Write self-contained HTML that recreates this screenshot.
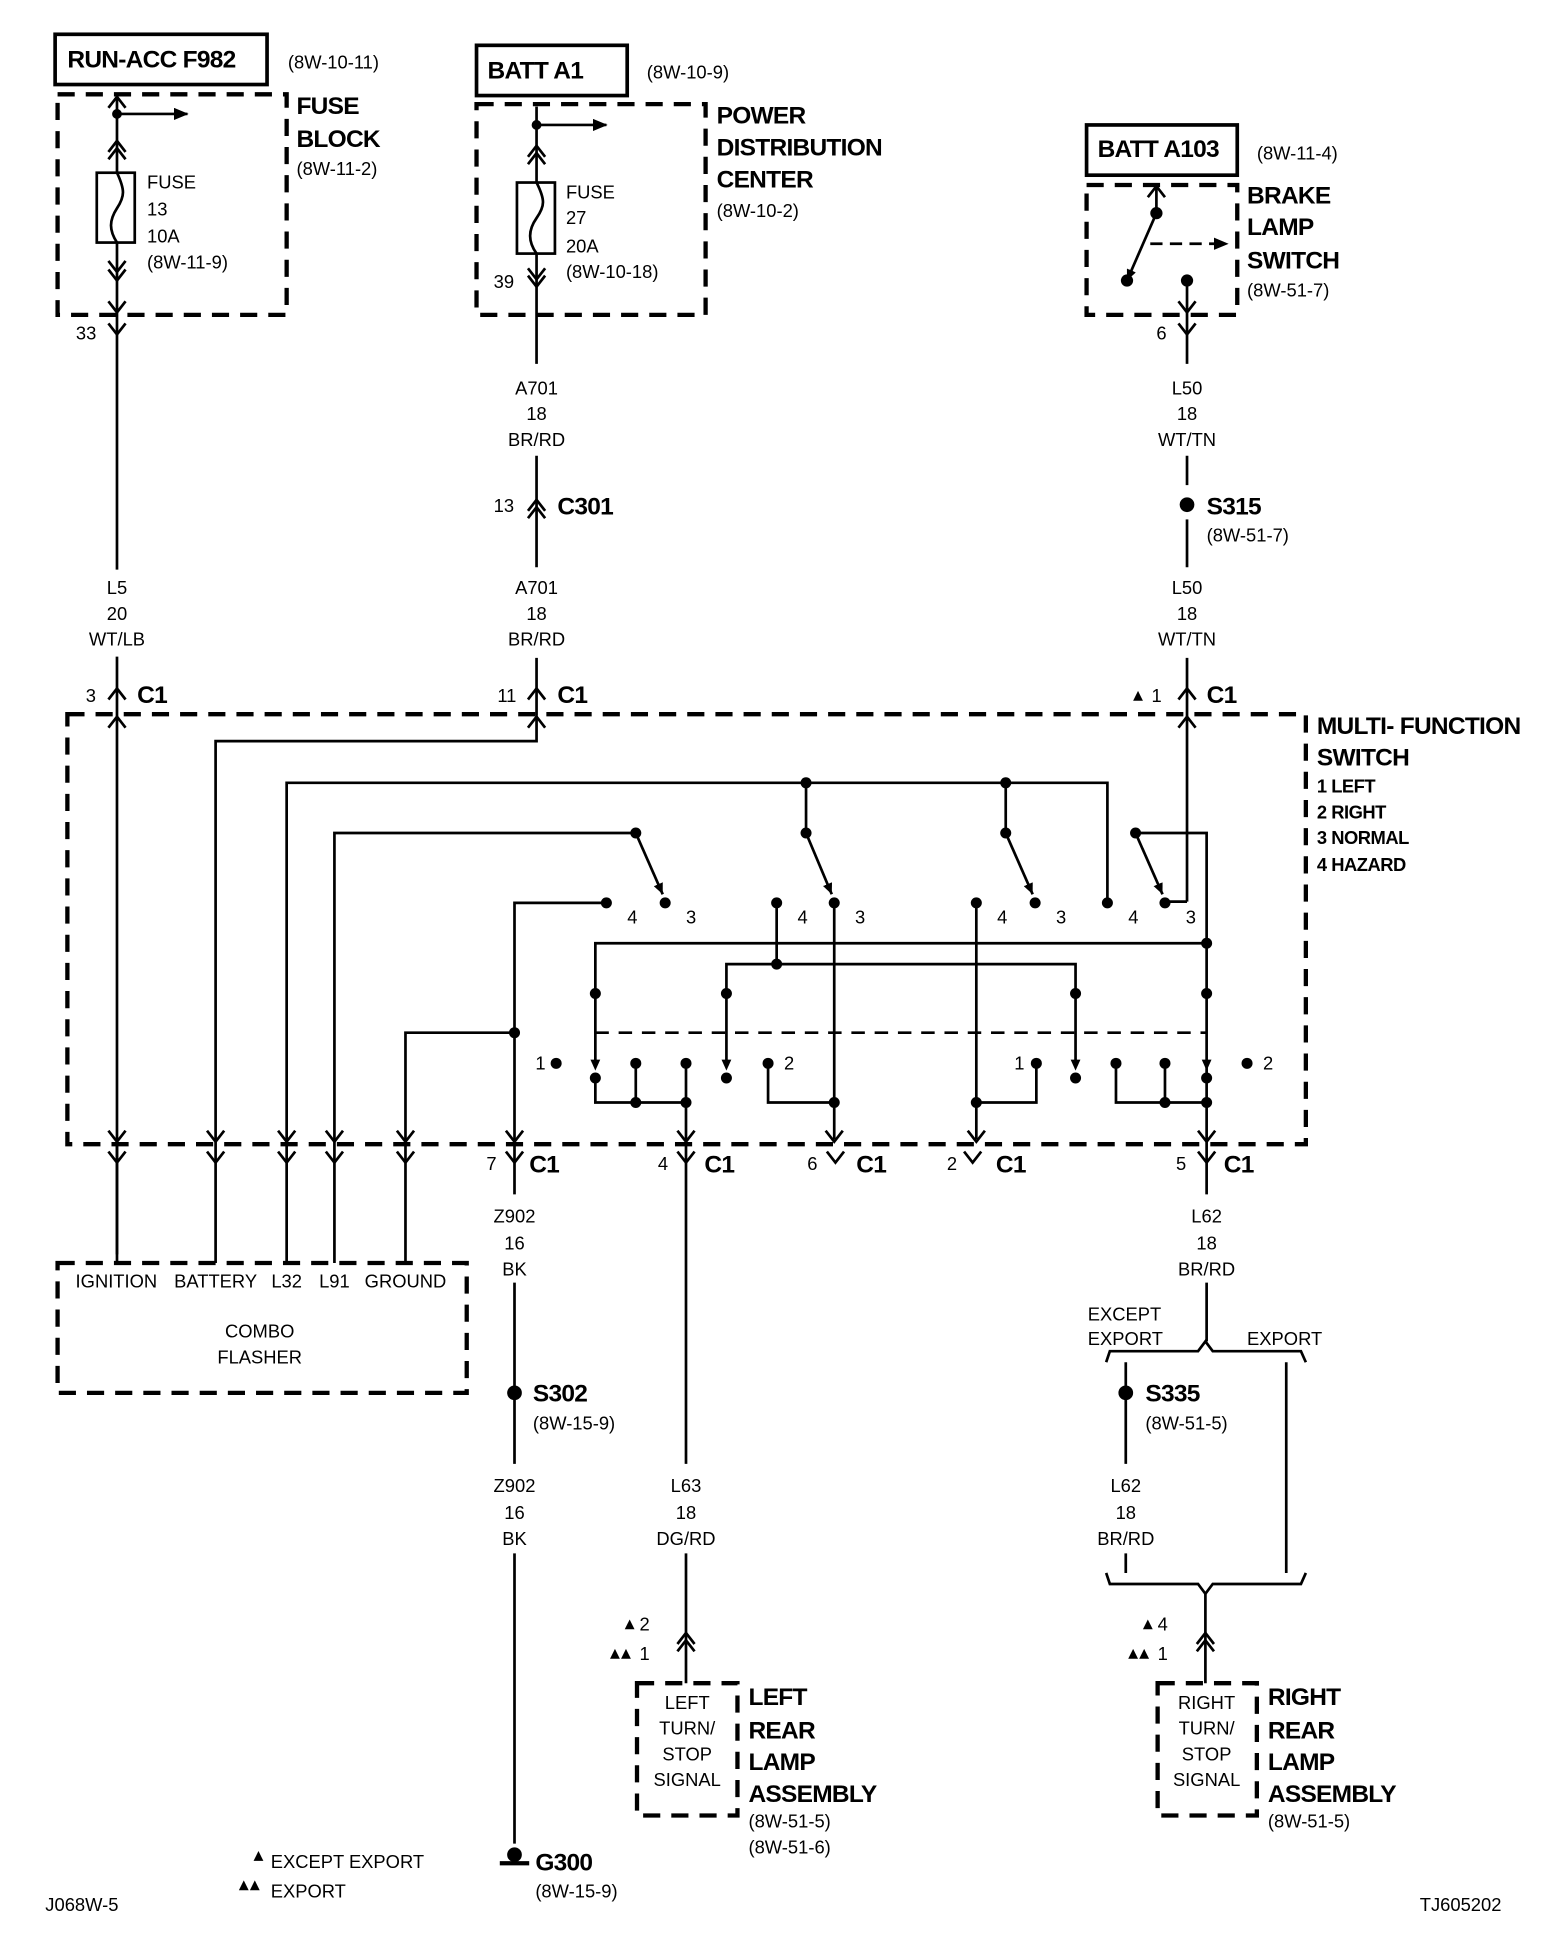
<!DOCTYPE html>
<html><head><meta charset="utf-8"><style>
html,body{margin:0;padding:0;background:#fff;}
svg{display:block;}
text{font-family:"Liberation Sans Narrow","Liberation Sans",Arial,sans-serif;fill:#000;}
.s{font-size:15px;}
.b{font-size:20px;font-weight:bold;letter-spacing:-0.6px;}
.m{font-size:15px;font-weight:bold;letter-spacing:-0.4px;}
</style></head><body>
<svg width="1568" height="1938" viewBox="0 0 1280 1582" preserveAspectRatio="none" xmlns="http://www.w3.org/2000/svg">
<defs>
<marker id="ah" markerUnits="userSpaceOnUse" markerWidth="12" markerHeight="10" refX="11" refY="5" orient="auto"><path d="M0,0 L12,5 L0,10 z" fill="#000"/></marker>
<marker id="sh" markerUnits="userSpaceOnUse" markerWidth="9" markerHeight="8" refX="9" refY="4" orient="auto"><path d="M0,0 L9,4 L0,8 z" fill="#000"/></marker>
<g id="vd"><polyline points="-7,-9 0,0 7,-9" fill="none" stroke="#000" stroke-width="2.2"/></g>
<g id="vu"><polyline points="-7,9 0,0 7,9" fill="none" stroke="#000" stroke-width="2.2"/></g>
<g id="ta"><path d="M-4,-9 L4,-9 L0,0 z" fill="#000"/></g>
</defs>
<g fill="none" stroke="#000" stroke-width="2.2">
<rect x="45" y="28" width="173" height="41" stroke-width="3"/>
<rect x="389" y="37" width="123" height="41" stroke-width="3"/>
<rect x="887" y="102" width="123" height="41" stroke-width="3"/>
<g stroke-width="3.5" stroke-dasharray="14 9">
<rect x="47" y="77" width="187" height="180"/>
<rect x="389" y="85" width="187" height="172"/>
<rect x="887" y="151" width="123" height="106"/>
<rect x="55" y="583" width="1011" height="351"/>
<rect x="47" y="1031" width="334" height="106"/>
<rect x="520" y="1374" width="82" height="108"/>
<rect x="945" y="1374" width="81" height="108"/>
</g>
<line x1="95.5" y1="79" x2="95.5" y2="1024"/>
<line x1="95.5" y1="465" x2="95.5" y2="536" stroke="#fff" stroke-width="4"/>
<line x1="95.5" y1="93" x2="153" y2="93" marker-end="url(#ah)"/>
<rect x="79" y="141" width="31" height="57" fill="#fff"/>
<path d="M95.5,141 C102,155 102,160 95.5,170 C89,180 89,188 95.5,198"/>
<line x1="438" y1="87" x2="438" y2="584"/>
<line x1="438" y1="297" x2="438" y2="372" stroke="#fff" stroke-width="4"/>
<line x1="438" y1="463" x2="438" y2="537" stroke="#fff" stroke-width="4"/>
<line x1="438" y1="102" x2="495" y2="102" marker-end="url(#ah)"/>
<rect x="422" y="149" width="31" height="58" fill="#fff"/>
<path d="M438,149 C445,163 445,168 438,178 C431,188 431,197 438,207"/>
<line x1="944" y1="152" x2="944" y2="174"/>
<line x1="944" y1="174" x2="920" y2="229" marker-end="url(#sh)"/>
<line x1="939" y1="199" x2="1002" y2="199" stroke-dasharray="10 6" marker-end="url(#ah)"/>
<line x1="969" y1="229" x2="969" y2="736"/>
<line x1="969" y1="297" x2="969" y2="372" stroke="#fff" stroke-width="4"/>
<line x1="969" y1="396" x2="969" y2="424" stroke="#fff" stroke-width="4"/>
<line x1="969" y1="463" x2="969" y2="537" stroke="#fff" stroke-width="4"/>
<polyline points="176,1031 176,605 438,605 438,584"/>
<polyline points="234,1031 234,639 904,639 904,736"/>
<polyline points="273,1031 273,680 519,680"/>
<polyline points="331,1031 331,843 420,843"/>
<polyline points="420,1505 420,737 495,737"/>
<line x1="420" y1="975" x2="420" y2="1047" stroke="#fff" stroke-width="4"/>
<line x1="420" y1="1195" x2="420" y2="1268" stroke="#fff" stroke-width="4"/>
<line x1="519" y1="680" x2="541" y2="730" marker-end="url(#sh)"/>
<line x1="658" y1="639" x2="658" y2="680"/>
<line x1="658" y1="680" x2="679" y2="730" marker-end="url(#sh)"/>
<line x1="821" y1="639" x2="821" y2="680"/>
<line x1="821" y1="680" x2="843" y2="730" marker-end="url(#sh)"/>
<line x1="927" y1="680" x2="949" y2="730" marker-end="url(#sh)"/>
<polyline points="927,680 985,680 985,1095"/>
<line x1="985" y1="975" x2="985" y2="1047" stroke="#fff" stroke-width="4"/>
<polyline points="969,736 951,736"/>
<polyline points="634,737 634,787"/>
<polyline points="593,868 593,787 878,787 878,868"/>
<line x1="681" y1="737" x2="681" y2="930"/>
<polyline points="797,737 797,930"/>
<polyline points="797,900 846,900 846,868"/>
<polyline points="486,868 486,770 985,770"/>
<line x1="486" y1="843" x2="985" y2="843" stroke-dasharray="11 8"/>
<polyline points="486,878 486,900 560,900"/>
<line x1="519" y1="868" x2="519" y2="900"/>
<line x1="560" y1="868" x2="560" y2="1374"/>
<line x1="560" y1="1195" x2="560" y2="1268" stroke="#fff" stroke-width="4"/>
<polyline points="627,868 627,900 681,900"/>
<polyline points="911,868 911,900 985,900"/>
<line x1="951" y1="868" x2="951" y2="900"/>
<line x1="95.5" y1="934" x2="95.5" y2="1031"/>
<polyline points="903,1112 906,1103 978,1103 984,1095 990,1103 1062,1103 1066,1112"/>
<polyline points="903,1284 906,1293 978,1293 984,1301 990,1293 1062,1293 1066,1284"/>
<line x1="919" y1="1112" x2="919" y2="1284"/>
<line x1="919" y1="1195" x2="919" y2="1268" stroke="#fff" stroke-width="4"/>
<line x1="1050" y1="1112" x2="1050" y2="1284"/>
<line x1="984" y1="1301" x2="984" y2="1374"/>
<line x1="408" y1="1521" x2="432" y2="1521" stroke-width="3.5"/>
</g>
<use href="#vu" x="95.5" y="79"/>
<use href="#vu" x="95.5" y="115"/><use href="#vu" x="95.5" y="121"/>
<use href="#vd" x="95.5" y="222"/><use href="#vd" x="95.5" y="229"/>
<use href="#vd" x="95.5" y="255"/>
<use href="#vd" x="95.5" y="273"/>
<use href="#vu" x="438" y="119"/><use href="#vu" x="438" y="125"/>
<use href="#vd" x="438" y="228"/><use href="#vd" x="438" y="234"/>
<use href="#vu" x="438" y="408"/><use href="#vu" x="438" y="414"/>
<use href="#vu" x="944" y="152"/>
<use href="#vd" x="969" y="255"/>
<use href="#vd" x="969" y="273"/>
<use href="#vu" x="95.5" y="562"/><use href="#vu" x="438" y="562"/><use href="#vu" x="969" y="562"/>
<use href="#vu" x="95.5" y="585"/><use href="#vu" x="438" y="585"/><use href="#vu" x="969" y="585"/>
<g>
<use href="#vd" x="95.5" y="932"/><use href="#vd" x="176" y="932"/><use href="#vd" x="234" y="932"/><use href="#vd" x="273" y="932"/><use href="#vd" x="331" y="932"/><use href="#vd" x="420" y="932"/><use href="#vd" x="560" y="932"/><use href="#vd" x="681" y="932"/><use href="#vd" x="797" y="932"/><use href="#vd" x="985" y="932"/>
<use href="#vd" x="95.5" y="949"/><use href="#vd" x="176" y="949"/><use href="#vd" x="234" y="949"/><use href="#vd" x="273" y="949"/><use href="#vd" x="331" y="949"/><use href="#vd" x="420" y="949"/><use href="#vd" x="560" y="949"/><use href="#vd" x="682" y="949"/><use href="#vd" x="794" y="949"/><use href="#vd" x="985" y="949"/>
</g>
<use href="#ta" x="486" y="874"/><use href="#ta" x="593" y="874"/><use href="#ta" x="878" y="874"/><use href="#ta" x="985" y="874"/>
<use href="#vu" x="560" y="1333"/><use href="#vu" x="560" y="1339"/>
<use href="#vu" x="984" y="1333"/><use href="#vu" x="984" y="1339"/>
<g fill="#000">
<circle cx="95.5" cy="93" r="4"/><circle cx="438" cy="102" r="4"/>
<circle cx="944" cy="174" r="5"/><circle cx="920" cy="229" r="5"/><circle cx="969" cy="229" r="5"/>
<circle cx="969" cy="412" r="6"/>
<circle cx="658" cy="639" r="4.5"/><circle cx="821" cy="639" r="4.5"/>
<circle cx="519" cy="680" r="4.5"/><circle cx="658" cy="680" r="4.5"/><circle cx="821" cy="680" r="4.5"/><circle cx="927" cy="680" r="4.5"/>
<circle cx="495" cy="737" r="4.5"/><circle cx="543" cy="737" r="4.5"/><circle cx="634" cy="737" r="4.5"/><circle cx="681" cy="737" r="4.5"/><circle cx="797" cy="737" r="4.5"/><circle cx="845" cy="737" r="4.5"/><circle cx="904" cy="737" r="4.5"/><circle cx="951" cy="737" r="4.5"/>
<circle cx="985" cy="770" r="4.5"/><circle cx="634" cy="787" r="4.5"/>
<circle cx="486" cy="811" r="4.5"/><circle cx="593" cy="811" r="4.5"/><circle cx="878" cy="811" r="4.5"/><circle cx="985" cy="811" r="4.5"/>
<circle cx="420" cy="843" r="4.5"/>
<circle cx="454" cy="868" r="4.5"/><circle cx="519" cy="868" r="4.5"/><circle cx="560" cy="868" r="4.5"/><circle cx="627" cy="868" r="4.5"/><circle cx="846" cy="868" r="4.5"/><circle cx="911" cy="868" r="4.5"/><circle cx="951" cy="868" r="4.5"/><circle cx="1018" cy="868" r="4.5"/>
<circle cx="486" cy="880" r="4.5"/><circle cx="593" cy="880" r="4.5"/><circle cx="878" cy="880" r="4.5"/><circle cx="985" cy="880" r="4.5"/>
<circle cx="519" cy="900" r="4.5"/><circle cx="560" cy="900" r="4.5"/><circle cx="681" cy="900" r="4.5"/><circle cx="797" cy="900" r="4.5"/><circle cx="951" cy="900" r="4.5"/><circle cx="985" cy="900" r="4.5"/>
<circle cx="420" cy="1137" r="6"/><circle cx="919" cy="1137" r="6"/>
<circle cx="420" cy="1514" r="6"/>
<path d="M207,1519 l4,-8 l4,8z"/>
<path d="M195,1543 l4,-8 l4,8z M204,1543 l4,-8 l4,8z"/>
<path d="M510,1330 l4,-8 l4,8z"/><path d="M498,1354 l4,-8 l4,8z M507,1354 l4,-8 l4,8z"/>
<path d="M933,1330 l4,-8 l4,8z"/><path d="M921,1354 l4,-8 l4,8z M930,1354 l4,-8 l4,8z"/>
<path d="M925,572 l4,-8 l4,8z"/>
</g>
<text class="b" x="55" y="55">RUN-ACC F982</text>
<text class="s" x="235" y="56">(8W-10-11)</text>
<text class="b" x="242" y="93">FUSE</text><text class="b" x="242" y="120">BLOCK</text>
<text class="s" x="242" y="143">(8W-11-2)</text>
<text class="s" x="120" y="154">FUSE</text><text class="s" x="120" y="176">13</text><text class="s" x="120" y="198">10A</text><text class="s" x="120" y="219">(8W-11-9)</text>
<text class="s" x="62" y="277">33</text>
<text class="b" x="398" y="64">BATT A1</text>
<text class="s" x="528" y="64">(8W-10-9)</text>
<text class="b" x="585" y="101">POWER</text><text class="b" x="585" y="127">DISTRIBUTION</text><text class="b" x="585" y="153">CENTER</text>
<text class="s" x="585" y="177">(8W-10-2)</text>
<text class="s" x="462" y="162">FUSE</text><text class="s" x="462" y="183">27</text><text class="s" x="462" y="206">20A</text><text class="s" x="462" y="227">(8W-10-18)</text>
<text class="s" x="403" y="235">39</text>
<text class="b" x="896" y="128">BATT A103</text>
<text class="s" x="1026" y="130">(8W-11-4)</text>
<text class="b" x="1018" y="166">BRAKE</text><text class="b" x="1018" y="192">LAMP</text><text class="b" x="1018" y="219">SWITCH</text>
<text class="s" x="1018" y="242">(8W-51-7)</text>
<text class="s" x="944" y="277">6</text>
<g class="s" text-anchor="middle">
<text x="438" y="322">A701</text><text x="438" y="343">18</text><text x="438" y="364">BR/RD</text>
<text x="438" y="485">A701</text><text x="438" y="506">18</text><text x="438" y="527">BR/RD</text>
<text x="95.5" y="485">L5</text><text x="95.5" y="506">20</text><text x="95.5" y="527">WT/LB</text>
<text x="969" y="322">L50</text><text x="969" y="343">18</text><text x="969" y="364">WT/TN</text>
<text x="969" y="485">L50</text><text x="969" y="506">18</text><text x="969" y="527">WT/TN</text>
<text x="420" y="998">Z902</text><text x="420" y="1020">16</text><text x="420" y="1041">BK</text>
<text x="420" y="1218">Z902</text><text x="420" y="1240">16</text><text x="420" y="1261">BK</text>
<text x="560" y="1218">L63</text><text x="560" y="1240">18</text><text x="560" y="1261">DG/RD</text>
<text x="985" y="998">L62</text><text x="985" y="1020">18</text><text x="985" y="1041">BR/RD</text>
<text x="919" y="1218">L62</text><text x="919" y="1240">18</text><text x="919" y="1261">BR/RD</text>
<text x="95" y="1051">IGNITION</text><text x="176" y="1051">BATTERY</text><text x="234" y="1051">L32</text><text x="273" y="1051">L91</text><text x="331" y="1051">GROUND</text>
<text x="212" y="1092">COMBO</text><text x="212" y="1113">FLASHER</text>
<text x="561" y="1395">LEFT</text><text x="561" y="1416">TURN/</text><text x="561" y="1437">STOP</text><text x="561" y="1458">SIGNAL</text>
<text x="985" y="1395">RIGHT</text><text x="985" y="1416">TURN/</text><text x="985" y="1437">STOP</text><text x="985" y="1458">SIGNAL</text>
</g>
<text class="s" x="403" y="418">13</text><text class="b" x="455" y="420">C301</text>
<text class="b" x="985" y="420">S315</text><text class="s" x="985" y="442">(8W-51-7)</text>
<text class="s" x="70" y="573">3</text><text class="b" x="112" y="574">C1</text>
<text class="s" x="406" y="573">11</text><text class="b" x="455" y="574">C1</text>
<text class="s" x="940" y="573">1</text><text class="b" x="985" y="574">C1</text>
<text class="b" x="1075" y="599">MULTI- FUNCTION</text>
<text class="b" x="1075" y="625">SWITCH</text>
<text class="m" x="1075" y="647">1 LEFT</text><text class="m" x="1075" y="668">2 RIGHT</text><text class="m" x="1075" y="689">3 NORMAL</text><text class="m" x="1075" y="711">4 HAZARD</text>
<g class="s">
<text x="512" y="754">4</text><text x="560" y="754">3</text>
<text x="651" y="754">4</text><text x="698" y="754">3</text>
<text x="814" y="754">4</text><text x="862" y="754">3</text>
<text x="921" y="754">4</text><text x="968" y="754">3</text>
<text x="437" y="873">1</text><text x="640" y="873">2</text><text x="828" y="873">1</text><text x="1031" y="873">2</text>
</g>
<text class="s" x="397" y="955">7</text><text class="b" x="432" y="957">C1</text>
<text class="s" x="537" y="955">4</text><text class="b" x="575" y="957">C1</text>
<text class="s" x="659" y="955">6</text><text class="b" x="699" y="957">C1</text>
<text class="s" x="773" y="955">2</text><text class="b" x="813" y="957">C1</text>
<text class="s" x="960" y="955">5</text><text class="b" x="999" y="957">C1</text>
<text class="b" x="435" y="1144">S302</text><text class="s" x="435" y="1167">(8W-15-9)</text>
<text class="b" x="935" y="1144">S335</text><text class="s" x="935" y="1167">(8W-51-5)</text>
<text class="s" x="888" y="1078">EXCEPT</text><text class="s" x="888" y="1098">EXPORT</text>
<text class="s" x="1018" y="1098">EXPORT</text>
<text class="s" x="522" y="1331">2</text><text class="s" x="522" y="1355">1</text>
<text class="s" x="945" y="1331">4</text><text class="s" x="945" y="1355">1</text>
<text class="b" x="611" y="1392">LEFT</text><text class="b" x="611" y="1419">REAR</text><text class="b" x="611" y="1445">LAMP</text><text class="b" x="611" y="1471">ASSEMBLY</text>
<text class="s" x="611" y="1492">(8W-51-5)</text><text class="s" x="611" y="1513">(8W-51-6)</text>
<text class="b" x="1035" y="1392">RIGHT</text><text class="b" x="1035" y="1419">REAR</text><text class="b" x="1035" y="1445">LAMP</text><text class="b" x="1035" y="1471">ASSEMBLY</text>
<text class="s" x="1035" y="1492">(8W-51-5)</text>
<text class="b" x="437" y="1527">G300</text><text class="s" x="437" y="1549">(8W-15-9)</text>
<text class="s" x="221" y="1525">EXCEPT EXPORT</text><text class="s" x="221" y="1549">EXPORT</text>
<text class="s" x="37" y="1560">J068W-5</text><text class="s" x="1159" y="1560">TJ605202</text>
</svg>
</body></html>
